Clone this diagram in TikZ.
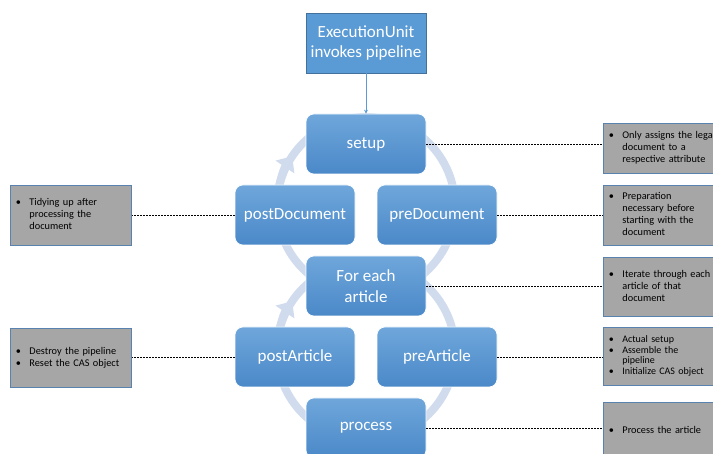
\documentclass[tikz,border=0pt]{standalone}
\usepackage{fontspec}
\setmainfont{Carlito}
\usetikzlibrary{arrows.meta}
\definecolor{ringc}{HTML}{D0DCEE}
\definecolor{boxtop}{HTML}{6FA7DB}
\definecolor{boxbot}{HTML}{4A88C8}
\definecolor{execf}{HTML}{5B9BD5}
\definecolor{execd}{HTML}{41719C}
\definecolor{notef}{HTML}{A6A6A6}
\definecolor{noted}{HTML}{5A82AE}
\tikzset{
  stepbox/.style={rectangle, rounded corners=8pt, minimum width=120pt, minimum height=60pt,
    top color=boxtop, bottom color=boxbot, draw=white, line width=0.6pt,
    text=white, font=\fontsize{17}{20.5}\selectfont, align=center, inner sep=2pt},
  execbox/.style={rectangle, minimum width=120pt, minimum height=60pt, fill=execf, draw=execd,
    line width=0.6pt, text=white, font=\fontsize{17}{20.5}\selectfont, align=center},
  notebox/.style={rectangle, fill=notef, draw=noted, line width=0.6pt, inner xsep=5.5pt, inner ysep=2pt,
    align=left, font=\fontsize{10.3}{12}\selectfont, anchor=north west},
  ring/.style={ringc, line width=8pt},
  ringtip/.style={-{Triangle[length=13pt,width=22pt]}},
  conn/.style={black, line width=0.5pt, dash pattern=on 2pt off 1pt},
}
\newcommand{\blist}[1]{\begin{tabular}{@{}l@{\hspace{8.5pt}}l@{}}#1\end{tabular}}
\begin{document}
\begin{tikzpicture}[x=1pt,y=-1pt]
\clip (0,0) rectangle (713,454);
% rings
\draw[ring] (366,206) circle (89);
\draw[ring,ringtip] (366,206) ++(185:89) arc (185:214:89);
\draw[ring] (366,351) circle (89);
\draw[ring,ringtip] (366,351) ++(185:89) arc (185:214:89);
% main nodes
\node[execbox] (exec) at (366,43) {ExecutionUnit\\invokes pipeline};
\node[stepbox] (setup) at (366,144) {setup};
\node[stepbox] (postdoc) at (295,215) {postDocument};
\node[stepbox] (predoc) at (437,215) {preDocument};
\node[stepbox] (each) at (366,286) {For each\\article};
\node[stepbox] (postart) at (295,357) {postArticle};
\node[stepbox] (preart) at (437,357) {preArticle};
\node[stepbox] (proc) at (366,428) {process};
\draw[execf, line width=0.7pt, -{Stealth[length=4pt,width=4pt]}] (exec) -- (setup);
% notes
\node[notebox, minimum width=126pt, minimum height=50pt, text width=115pt] (n1) at (603,123)
  {\blist{• & Only assigns the legal\\ & document to a\\ & respective attribute}\\[3pt]};
\node[notebox, minimum width=126pt, minimum height=60pt, text width=115pt] (n2) at (603,185)
  {\blist{• & Preparation\\ & necessary before\\ & starting with the\\ & document}};
\node[notebox, minimum width=126pt, minimum height=59pt, text width=115pt] (n3) at (603,257)
  {\blist{• & Iterate through each\\ & article of that\\ & document}};
\node[notebox, minimum width=126pt, minimum height=58pt, text width=115pt,
  font=\fontsize{10}{10.5}\selectfont] (n4) at (603,327)
  {\blist{• & Actual setup\\ • & Assemble the\\ & pipeline\\ • & Initialize CAS object}\\[6pt]};
\node[notebox, minimum width=126pt, minimum height=58pt, text width=115pt] (n5) at (603,402)
  {\blist{• & Process the article}};
\node[notebox, minimum width=121pt, minimum height=60pt, text width=110pt] (n6) at (10,185)
  {\blist{• & Tidying up after\\ & processing the\\ & document}\\[3pt]};
\node[notebox, minimum width=121pt, minimum height=59pt, text width=110pt] (n7) at (10,328)
  {\blist{• & Destroy the pipeline\\ • & Reset the CAS object}};
% connectors
\draw[conn] (setup.east) -- (setup.east -| n1.west);
\draw[conn] (predoc.east) -- (predoc.east -| n2.west);
\draw[conn] (each.east) -- (each.east -| n3.west);
\draw[conn] (preart.east) -- (preart.east -| n4.west);
\draw[conn] (proc.east) -- (proc.east -| n5.west);
\draw[conn] (postdoc.west) -- (postdoc.west -| n6.east);
\draw[conn] (postart.west) -- (postart.west -| n7.east);
\end{tikzpicture}
\end{document}
